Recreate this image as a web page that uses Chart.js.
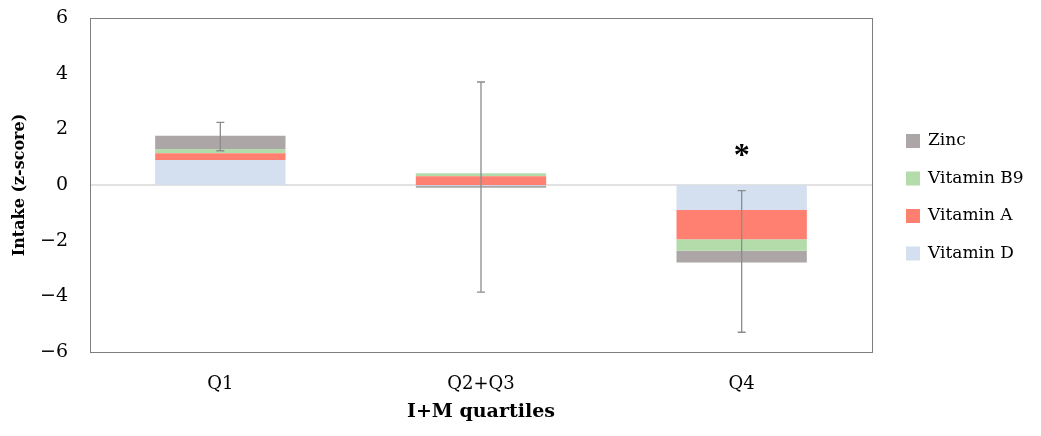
<!DOCTYPE html>
<html>
<head>
<meta charset="utf-8">
<script src="https://cdn.jsdelivr.net/npm/chart.js@4/dist/chart.umd.min.js"></script>
<style>
html,body{margin:0;padding:0;background:#fff;}
#wrap{width:1041px;height:436px;position:relative;}
</style>
</head>
<body>
<div id="wrap"><canvas id="c" width="1041" height="436"></canvas></div>
<script>
const categories = ["Q1", "Q2+Q3", "Q4"];
const vitaminD  = [0.90, -0.02, -0.90];
const vitaminA  = [0.24, 0.31, -1.05];
const vitaminB9 = [0.15, 0.11, -0.41];
const zinc      = [0.48, -0.08, -0.42];
const errLow    = [1.23, -3.85, -5.29];
const errHigh   = [2.25, 3.70, -0.20];
const significance = ["", "", "*"];
const yTicks = [-6, -4, -2, 0, 2, 4, 6];

const serif = "'DejaVu Serif', 'Liberation Serif', serif";

const errorBarPlugin = {
  id: 'errorBars',
  afterDatasetsDraw(chart) {
    const ctx = chart.ctx;
    const x = chart.scales.x, y = chart.scales.y;
    ctx.save();
    ctx.strokeStyle = '#8c8c8c';
    ctx.lineWidth = 1.3;
    categories.forEach((c, i) => {
      const cx = x.getPixelForValue(i);
      const y1 = y.getPixelForValue(errLow[i]);
      const y2 = y.getPixelForValue(errHigh[i]);
      ctx.beginPath();
      ctx.moveTo(cx, y1); ctx.lineTo(cx, y2);
      ctx.moveTo(cx - 4, y1); ctx.lineTo(cx + 4, y1);
      ctx.moveTo(cx - 4, y2); ctx.lineTo(cx + 4, y2);
      ctx.stroke();
      if (significance[i]) {
        ctx.fillStyle = '#000';
        ctx.font = "bold 32px 'Liberation Serif', serif";
        ctx.textAlign = 'center';
        ctx.textBaseline = 'middle';
        ctx.fillText(significance[i], cx, y.getPixelForValue(1.08) + 2);
      }
    });
    ctx.restore();
  }
};

const framePlugin = {
  id: 'frame',
  beforeDatasetsDraw(chart) {
    const {ctx, chartArea: a} = chart;
    const y0 = chart.scales.y.getPixelForValue(0);
    ctx.save();
    ctx.strokeStyle = '#d9d9d9';
    ctx.lineWidth = 1.5;
    ctx.beginPath(); ctx.moveTo(a.left, y0); ctx.lineTo(a.right, y0); ctx.stroke();
    ctx.restore();
  },
  afterDraw(chart) {
    const {ctx, chartArea: a} = chart;
    ctx.save();
    ctx.strokeStyle = '#7f7f7f';
    ctx.lineWidth = 1;
    ctx.strokeRect(a.left + 0.5, a.top + 0.5, a.right - a.left, a.bottom - a.top);
    ctx.restore();
  }
};

const legendPlugin = {
  id: 'customLegend',
  afterDraw(chart) {
    const ctx = chart.ctx;
    const ds = chart.data.datasets.slice().reverse();
    ctx.save();
    ctx.font = "17px " + serif;
    ctx.textBaseline = 'middle';
    ctx.textAlign = 'left';
    ds.forEach((d, k) => {
      const yy = 141 + k * 37.5;
      ctx.fillStyle = d.backgroundColor;
      ctx.fillRect(906, yy - 7, 14, 14);
      ctx.fillStyle = '#000';
      ctx.fillText(d.label, 928, yy);
    });
    ctx.restore();
  }
};

new Chart(document.getElementById('c'), {
  type: 'bar',
  data: {
    labels: categories,
    datasets: [
      {label: 'Vitamin D', data: vitaminD, backgroundColor: '#d4e0f0'},
      {label: 'Vitamin A', data: vitaminA, backgroundColor: '#ff8070'},
      {label: 'Vitamin B9', data: vitaminB9, backgroundColor: '#b4dcab'},
      {label: 'Zinc', data: zinc, backgroundColor: '#aca6a6'}
    ]
  },
  options: {
    responsive: false,
    animation: false,
    devicePixelRatio: 1,
    layout: {padding: {left: 0, right: 169, top: 18, bottom: 0}},
    datasets: {bar: {categoryPercentage: 1, barPercentage: 0.5, borderWidth: 0}},
    plugins: {legend: {display: false}, tooltip: {enabled: false}},
    scales: {
      x: {
        stacked: true,
        grid: {display: false, drawTicks: false},
        border: {display: false},
        ticks: {color: '#000', font: {family: serif, size: 18}, padding: 22},
        title: {display: true, text: 'I+M quartiles', color: '#000',
                font: {family: serif, size: 19, weight: 'bold'}, padding: {top: 0, bottom: 13}},
        afterFit(s) { s.height = 84; }
      },
      y: {
        stacked: true,
        min: -6, max: 6,
        afterBuildTicks(s) { s.ticks = yTicks.map(v => ({value: v})); },
        grid: {display: false, drawTicks: false},
        border: {display: false},
        ticks: {color: '#000', font: {family: serif, size: 19}, padding: 22,
                callback: v => v < 0 ? '\u2212' + Math.abs(v) : String(v)},
        title: {display: true, text: 'Intake (z-score)', color: '#000',
                font: {family: serif, size: 16, weight: 'bold'}, padding: {top: 10, bottom: 0}},
        afterFit(s) { s.width = 90; s.paddingTop = 0; s.paddingBottom = 0; }
      }
    }
  },
  plugins: [framePlugin, errorBarPlugin, legendPlugin]
});
</script>
</body>
</html>
